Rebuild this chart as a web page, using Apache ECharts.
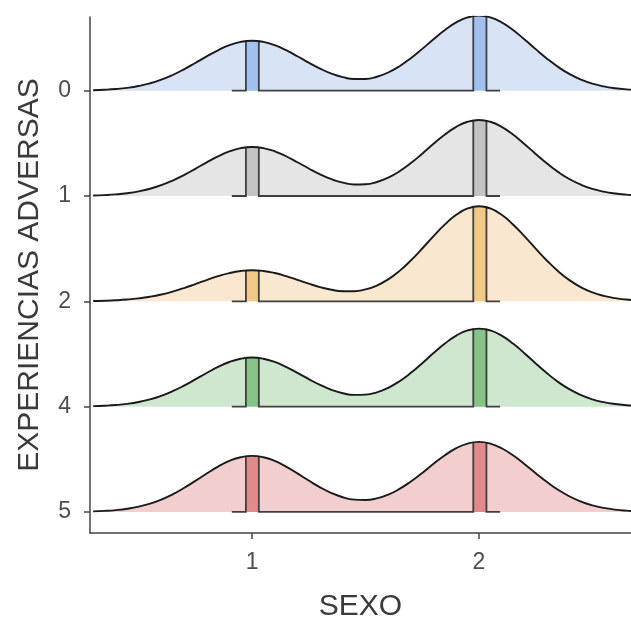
<!DOCTYPE html>
<html>
<head>
<meta charset="utf-8">
<script src="https://cdn.jsdelivr.net/npm/echarts@6/dist/echarts.min.js"></script>
<style>html,body{margin:0;padding:0;background:#fff;}#main{width:631px;height:621px;}</style>
</head>
<body>
<div id="main"></div>
<script>
// ---- data ----
const categories = ['0', '1', '2', '4', '5'];
const xs = [0.3,0.35,0.4,0.45,0.5,0.55,0.6,0.65,0.7,0.75,0.8,0.85,0.9,0.95,1.0,1.05,1.1,1.15,1.2,1.25,1.3,1.35,1.4,1.45,1.5,1.55,1.6,1.65,1.7,1.75,1.8,1.85,1.9,1.95,2.0,2.05,2.1,2.15,2.2,2.25,2.3,2.35,2.4,2.45,2.5,2.55,2.6,2.65,2.7];
const dens_0 = [0.0046,0.0088,0.0158,0.0272,0.0447,0.0701,0.1047,0.1492,0.2029,0.2631,0.3255,0.3840,0.4322,0.4639,0.4751,0.4640,0.4325,0.3848,0.3272,0.2666,0.2098,0.1623,0.1284,0.1110,0.1118,0.1324,0.1729,0.2328,0.3091,0.3972,0.4896,0.5769,0.6489,0.6964,0.7130,0.6963,0.6487,0.5764,0.4885,0.3949,0.3045,0.2240,0.1571,0.1052,0.0671,0.0409,0.0237,0.0131,0.0069];
const dens_1 = [0.0045,0.0086,0.0155,0.0267,0.0439,0.0687,0.1027,0.1464,0.1990,0.2581,0.3193,0.3767,0.4240,0.4551,0.4661,0.4552,0.4243,0.3775,0.3210,0.2616,0.2060,0.1597,0.1267,0.1101,0.1118,0.1332,0.1746,0.2355,0.3129,0.4022,0.4958,0.5842,0.6571,0.7052,0.7220,0.7051,0.6569,0.5837,0.4947,0.3999,0.3084,0.2269,0.1591,0.1065,0.0679,0.0414,0.0240,0.0133,0.0070];
const dens_2 = [0.0029,0.0054,0.0098,0.0169,0.0278,0.0435,0.0650,0.0927,0.1260,0.1634,0.2021,0.2385,0.2684,0.2881,0.2951,0.2883,0.2688,0.2395,0.2042,0.1678,0.1348,0.1094,0.0951,0.0952,0.1128,0.1501,0.2088,0.2891,0.3886,0.5016,0.6194,0.7303,0.8216,0.8820,0.9030,0.8819,0.8215,0.7300,0.6187,0.5002,0.3857,0.2837,0.1990,0.1332,0.0850,0.0517,0.0301,0.0167,0.0088];
const dens_4 = [0.0045,0.0086,0.0155,0.0267,0.0439,0.0687,0.1027,0.1464,0.1990,0.2581,0.3193,0.3767,0.4240,0.4551,0.4661,0.4552,0.4243,0.3775,0.3210,0.2617,0.2062,0.1601,0.1274,0.1112,0.1136,0.1360,0.1788,0.2414,0.3210,0.4127,0.5088,0.5995,0.6744,0.7238,0.7410,0.7237,0.6742,0.5990,0.5077,0.4104,0.3165,0.2328,0.1633,0.1093,0.0697,0.0425,0.0247,0.0137,0.0072];
const dens_5 = [0.0052,0.0098,0.0177,0.0305,0.0501,0.0785,0.1173,0.1672,0.2272,0.2947,0.3645,0.4301,0.4840,0.5196,0.5321,0.5197,0.4843,0.4308,0.3661,0.2980,0.2337,0.1795,0.1394,0.1166,0.1127,0.1286,0.1643,0.2187,0.2892,0.3709,0.4570,0.5382,0.6053,0.6495,0.6650,0.6494,0.6050,0.5376,0.4557,0.3683,0.2840,0.2089,0.1466,0.0981,0.0626,0.0381,0.0221,0.0123,0.0065];
const bandLo = [0.973, 1.975];
const bandHi = [1.030, 2.033];
const whiskerLo = 0.911;
const whiskerHi = 2.093;
const xTicks = [1, 2];

// ---- styling ----
const densities = [dens_0, dens_1, dens_2, dens_4, dens_5];
const fillColors = ['#d8e3f6', '#e5e5e5', '#f9e8cf', '#cfe7cf', '#f3cece'];
const bandColors = ['#a2c0ee', '#c3c3c3', '#f0c987', '#87c387', '#e08a8b'];
const FONT = 'Liberation Sans, Arial, sans-serif';
const nR = categories.length;
const baseOf = k => nR - 1 - k;
const peakIdx = [xs.indexOf(1.0), xs.indexOf(2.0)];

const series = [];
densities.forEach((d, k) => {
  const base = baseOf(k);
  const pts = xs.map((x, i) => [x, base + d[i]]);
  series.push({
    type: 'line', data: pts, smooth: true, symbol: 'none', silent: true,
    lineStyle: { width: 0, opacity: 0 },
    areaStyle: { color: fillColors[k], opacity: 1, origin: base },
    z: 1
  });
  series.push({
    type: 'line', data: pts, smooth: true, symbol: 'none', silent: true,
    lineStyle: { color: '#1a1a1a', width: 1.9 },
    z: 4
  });
});

series.push({
  type: 'custom', silent: true, z: 3,
  data: categories.map((c, k) => [k]),
  renderItem: function (params, api) {
    const k = params.dataIndex;
    const base = baseOf(k);
    const d = densities[k];
    const children = [];
    const tops = peakIdx.map(i => base + d[i]);
    for (let j = 0; j < 2; j++) {
      const a = api.coord([bandLo[j], base]);
      const b = api.coord([bandHi[j], tops[j]]);
      children.push({ type: 'rect', shape: { x: a[0], y: b[1], width: b[0] - a[0], height: a[1] - b[1] },
        style: { fill: bandColors[k] } });
    }
    const lineStyle = { stroke: '#3f3f3f', lineWidth: 1.8, fill: null };
    const paths = [
      [[whiskerLo, base], [bandLo[0], base], [bandLo[0], tops[0]]],
      [[bandHi[0], tops[0]], [bandHi[0], base], [bandLo[1], base], [bandLo[1], tops[1]]],
      [[bandHi[1], tops[1]], [bandHi[1], base], [whiskerHi, base]]
    ];
    paths.forEach(p => {
      children.push({ type: 'polyline', shape: { points: p.map(v => api.coord(v)) }, style: lineStyle });
    });
    return { type: 'group', children: children };
  }
});

const chart = echarts.init(document.getElementById('main'));
chart.setOption({
  animation: false,
  backgroundColor: '#ffffff',
  grid: { left: 90, right: 0, top: 17, bottom: 88, containLabel: false, outerBoundsMode: 'none' },
  xAxis: {
    type: 'value', min: 0.286, max: 2.67,
    name: 'SEXO', nameLocation: 'middle', nameGap: 59,
    nameTextStyle: { fontFamily: FONT, fontSize: 30, color: '#3a3a3a' },
    axisLine: { show: true, onZero: false, lineStyle: { color: '#444', width: 1.5 } },
    axisTick: { show: true, length: 6, customValues: xTicks, lineStyle: { color: '#444', width: 1.5 } },
    axisLabel: { customValues: xTicks, margin: 18, fontFamily: FONT, fontSize: 23, color: '#4d4d4d' },
    splitLine: { show: false }
  },
  yAxis: {
    type: 'value', min: -0.2, max: 4.7,
    name: 'EXPERIENCIAS ADVERSAS', nameLocation: 'middle', nameGap: 45,
    nameTextStyle: { fontFamily: FONT, fontSize: 30, color: '#3a3a3a' },
    axisLine: { show: true, onZero: false, lineStyle: { color: '#444', width: 1.5 } },
    axisTick: { show: true, length: 6, customValues: [0, 1, 2, 3, 4], lineStyle: { color: '#444', width: 1.5 } },
    axisLabel: { customValues: [0, 1, 2, 3, 4], margin: 19, fontFamily: FONT, fontSize: 23, color: '#4d4d4d',
      formatter: v => categories[nR - 1 - Math.round(v)] },
    splitLine: { show: false }
  },
  series: series
});
</script>
</body>
</html>
